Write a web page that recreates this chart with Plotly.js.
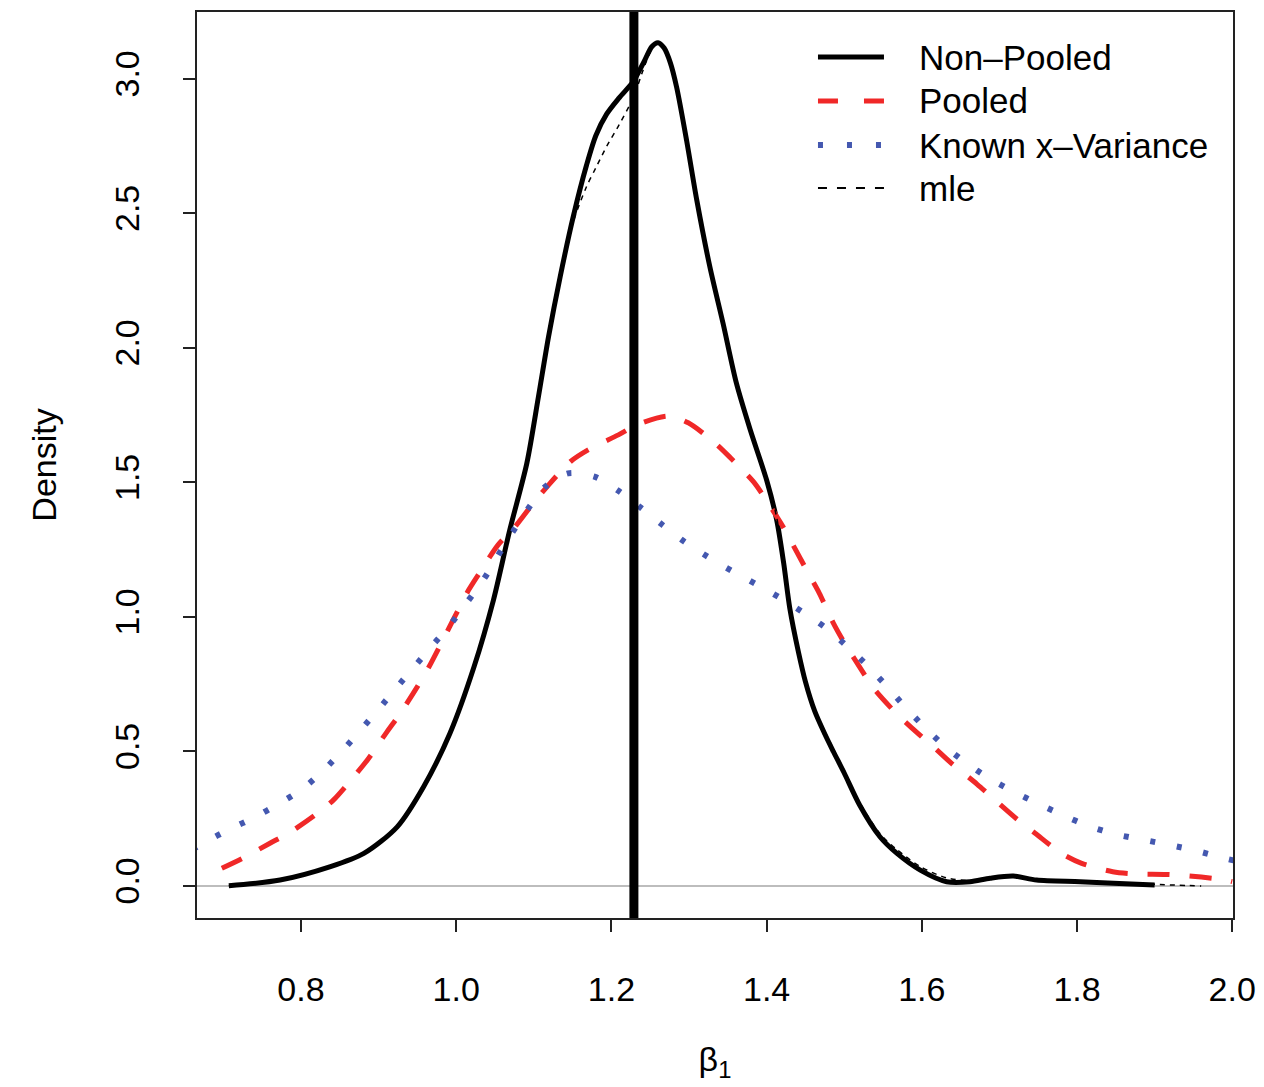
<!DOCTYPE html>
<html>
<head>
<meta charset="utf-8">
<script src="https://cdn.plot.ly/plotly-3.0.1.min.js"></script>
<style>html,body{margin:0;padding:0;background:#fff;}#chart{width:1264px;height:1087px;}</style>
</head>
<body>
<div id="chart"></div>
<script>
// ---- data ----
const seriesNames = ["Non–Pooled", "Pooled", "Known x–Variance", "mle"];

const nonPooledX = [0.707,0.773,0.838,0.881,0.924,0.958,0.992,1.023,1.048,1.069,1.091,1.106,1.119,1.134,1.151,1.168,1.18,1.194,1.21,1.228,1.243,1.252,1.26,1.268,1.276,1.284,1.297,1.31,1.327,1.344,1.361,1.379,1.40,1.413,1.422,1.43,1.441,1.45,1.462,1.475,1.486,1.50,1.52,1.546,1.568,1.598,1.632,1.662,1.688,1.718,1.748,1.804,1.847,1.90];
const nonPooledY = [0.001,0.022,0.072,0.121,0.22,0.369,0.568,0.815,1.063,1.323,1.571,1.819,2.042,2.265,2.49,2.68,2.79,2.87,2.93,2.99,3.07,3.12,3.135,3.115,3.06,2.97,2.77,2.55,2.30,2.09,1.87,1.695,1.509,1.361,1.20,1.03,0.87,0.76,0.65,0.565,0.50,0.42,0.30,0.183,0.121,0.059,0.016,0.016,0.029,0.037,0.022,0.016,0.010,0.004];

const mleX = [0.707,0.773,0.838,0.881,0.924,0.958,0.992,1.023,1.048,1.069,1.091,1.106,1.119,1.134,1.151,1.168,1.18,1.194,1.21,1.228,1.243,1.252,1.26,1.268,1.276,1.284,1.297,1.31,1.327,1.344,1.361,1.379,1.40,1.413,1.422,1.43,1.441,1.45,1.462,1.475,1.486,1.50,1.52,1.546,1.568,1.598,1.632,1.662,1.688,1.718,1.748,1.804,1.847,1.90,1.96];
const mleY = [0.001,0.022,0.072,0.121,0.22,0.369,0.568,0.815,1.063,1.323,1.571,1.819,2.042,2.265,2.47,2.60,2.67,2.75,2.83,2.93,3.05,3.11,3.135,3.115,3.06,2.97,2.77,2.55,2.30,2.09,1.87,1.70,1.52,1.37,1.21,1.04,0.88,0.77,0.66,0.575,0.51,0.43,0.31,0.195,0.135,0.072,0.030,0.020,0.028,0.035,0.022,0.018,0.012,0.006,0.0];

const pooledX = [0.698,0.724,0.76,0.786,0.821,0.842,0.87,0.887,0.911,0.928,0.95,0.965,0.984,0.997,1.016,1.031,1.054,1.074,1.099,1.117,1.147,1.17,1.209,1.233,1.273,1.299,1.333,1.353,1.383,1.398,1.421,1.434,1.455,1.468,1.486,1.50,1.523,1.537,1.565,1.587,1.617,1.639,1.671,1.693,1.724,1.746,1.78,1.806,1.846,1.875,1.915,1.945,1.985,2.0];
const pooledY = [0.066,0.102,0.159,0.20,0.27,0.32,0.413,0.474,0.574,0.642,0.741,0.815,0.921,0.995,1.10,1.168,1.268,1.329,1.422,1.484,1.577,1.621,1.677,1.714,1.747,1.722,1.648,1.593,1.503,1.441,1.336,1.268,1.156,1.088,0.977,0.905,0.80,0.738,0.648,0.588,0.512,0.454,0.379,0.323,0.245,0.196,0.121,0.084,0.053,0.045,0.043,0.037,0.025,0.016];

const knownX = [0.66,0.675,0.708,0.74,0.771,0.801,0.828,0.853,0.876,0.90,0.923,0.946,0.969,0.992,1.014,1.035,1.053,1.072,1.092,1.114,1.144,1.179,1.209,1.237,1.266,1.294,1.324,1.355,1.386,1.417,1.447,1.477,1.504,1.53,1.554,1.578,1.603,1.629,1.657,1.687,1.718,1.75,1.782,1.815,1.85,1.885,1.92,1.955,1.99,2.01];
const knownY = [0.135,0.161,0.211,0.255,0.305,0.359,0.427,0.502,0.577,0.657,0.737,0.815,0.893,0.970,1.055,1.138,1.224,1.313,1.40,1.482,1.534,1.521,1.469,1.408,1.342,1.28,1.224,1.172,1.123,1.072,1.017,0.958,0.89,0.819,0.745,0.667,0.592,0.521,0.458,0.40,0.351,0.306,0.263,0.223,0.192,0.172,0.152,0.13,0.103,0.09];

const trueBeta = 1.229;
const xTicks = [0.8, 1.0, 1.2, 1.4, 1.6, 1.8, 2.0];
const yTicks = [0.0, 0.5, 1.0, 1.5, 2.0, 2.5, 3.0];

// ---- styles ----
const FONT = "Liberation Sans, Arial, Helvetica, sans-serif";
const styles = [
  {color: "#000000", width: 5, dash: "solid"},
  {color: "#f02828", width: 5, dash: "22px,20px"},
  {color: "#4458b0", width: 6, dash: "5px,22px"},
  {color: "#000000", width: 1.5, dash: "5px,5px"}
];
const legendStyles = [
  {color: "#000000", width: 5, dash: "solid"},
  {color: "#f02828", width: 5, dash: "20px,26px"},
  {color: "#4458b0", width: 6, dash: "5px,24px"},
  {color: "#000000", width: 2, dash: "9px,10px"}
];

const seriesX = [nonPooledX, pooledX, knownX, mleX];
const seriesY = [nonPooledY, pooledY, knownY, mleY];
const traces = seriesNames.map((n, i) => ({
  x: seriesX[i], y: seriesY[i], name: n, mode: "lines", showlegend: false,
  line: Object.assign({shape: "spline", smoothing: 0.8}, styles[i])
}));

// legend drawn in paper coordinates (R-style, no box)
const legX0 = 0.5994, legX1 = 0.6631, legTextX = 0.695;
const legRowsY = [0.9503, 0.9018, 0.8532, 0.8057];
const shapes = [
  {type: "line", xref: "x", yref: "paper", x0: trueBeta, x1: trueBeta, y0: 0, y1: 1,
   line: {color: "#000", width: 9}, layer: "above"}
];
const annotations = [];
seriesNames.forEach((n, i) => {
  shapes.push({type: "line", xref: "paper", yref: "paper", x0: legX0, x1: legX1,
               y0: legRowsY[i], y1: legRowsY[i], line: legendStyles[i]});
  annotations.push({xref: "paper", yref: "paper", x: legTextX, y: legRowsY[i],
                    xanchor: "left", yanchor: "middle", showarrow: false, text: n,
                    font: {family: FONT, size: 35, color: "#000"}});
});

const layout = {
  width: 1264, height: 1087,
  paper_bgcolor: "#ffffff", plot_bgcolor: "#ffffff",
  margin: {l: 197, r: 31, t: 12, b: 169},
  font: {family: FONT, size: 34, color: "#000000"},
  showlegend: false,
  xaxis: {
    range: [0.666, 2.001], tickvals: xTicks, tickformat: ".1f",
    showgrid: false, zeroline: false, showline: true, mirror: true,
    linecolor: "#222", linewidth: 2, ticks: "outside", ticklen: 12, tickwidth: 2, tickcolor: "#222",
    tickfont: {family: FONT, size: 34}, ticklabelstandoff: 28,
    title: {text: "β<sub>1</sub>", font: {family: FONT, size: 34}, standoff: 40},
    automargin: false
  },
  yaxis: {
    range: [-0.119, 3.249], tickvals: yTicks, tickformat: ".1f", tickangle: -90,
    showgrid: false, zeroline: true, zerolinecolor: "#bdbdbd", zerolinewidth: 2,
    showline: true, mirror: true,
    linecolor: "#222", linewidth: 2, ticks: "outside", ticklen: 12, tickwidth: 2, tickcolor: "#222",
    tickfont: {family: FONT, size: 34}, ticklabelstandoff: 30,
    title: {text: "Density", font: {family: FONT, size: 34}, standoff: 42},
    automargin: false
  },
  shapes: shapes,
  annotations: annotations
};

Plotly.newPlot("chart", traces, layout, {displayModeBar: false, staticPlot: true});
</script>
</body>
</html>
